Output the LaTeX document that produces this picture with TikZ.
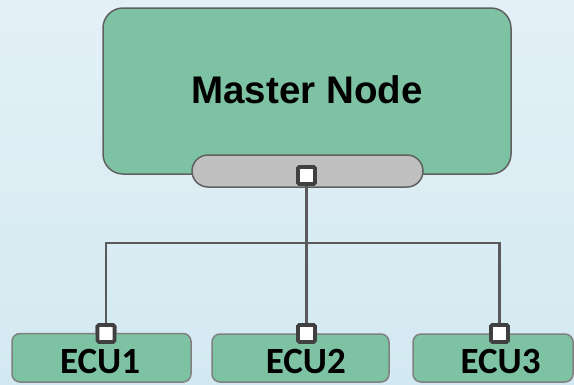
\documentclass[tikz,border=0pt]{standalone}
\usepackage{fontspec}
\setmainfont{Liberation Sans}
\newfontfamily\ecufont{Carlito}
\definecolor{bgtop}{RGB}{228,240,247}
\definecolor{bgbot}{RGB}{211,233,241}
\definecolor{boxgreen}{RGB}{125,195,163}
\definecolor{busgray}{RGB}{192,192,192}
\definecolor{edgegray}{RGB}{96,96,96}
\definecolor{ecuedge}{RGB}{128,128,128}
\definecolor{wiregray}{RGB}{90,90,90}
\definecolor{portedge}{RGB}{64,64,64}
\begin{document}
\begin{tikzpicture}[x=1pt,y=-1pt,
  master/.style={draw=edgegray,line width=1.5pt,fill=boxgreen,rounded corners=20pt},
  bus/.style={draw=edgegray,line width=1.5pt,fill=busgray,rounded corners=16pt},
  ecubox/.style={draw=ecuedge,line width=1.5pt,fill=boxgreen,rounded corners=8pt},
  port/.style={draw=portedge,line width=3.8pt,fill=white,rounded corners=1.5pt,
    minimum size=17pt,inner sep=0pt,rectangle},
  wire/.style={draw=wiregray,line width=2.2pt},
  ecutext/.style={font=\ecufont\bfseries\fontsize{37}{37}\selectfont,anchor=base,inner sep=0pt},
]
% background
\useasboundingbox (0,0) rectangle (574,384);
\shade[top color=bgtop,bottom color=bgbot] (0,0) rectangle (574,384);

% master node and its bus interface
\path[master] (103,8) rectangle (511,174);
\node[font=\bfseries\fontsize{38.5}{38.5}\selectfont,anchor=base,inner sep=0pt] (mastertxt) at (307,103) {Master Node};
\path[bus] (192,155) rectangle (423,187);

% bus wiring
\coordinate (j) at (306.5,243);
\node[port] (busport) at (306.5,175.5) {};
\node[port] (p1) at (106,333.5) {};
\node[port] (p2) at (306.5,333.5) {};
\node[port] (p3) at (499.5,333.5) {};
\draw[wire] (busport.south) -- (j);
\draw[wire] (p1.north) |- (j) -| (p3.north);
\draw[wire] (j) -- (p2.north);
\node[port] at (busport) {};

% ECUs
\path[ecubox] (12,333.5) rectangle (191,382);
\path[ecubox] (212,334) rectangle (389,382);
\path[ecubox] (413,334) rectangle (573,382);
\node[port] at (p1) {};
\node[port] at (p2) {};
\node[port] at (p3) {};
\node[ecutext] (e1) at (100,373) {ECU1};
\node[ecutext] (e2) at (305.8,373) {ECU2};
\node[ecutext] (e3) at (500.5,373) {ECU3};
\end{tikzpicture}
\end{document}
